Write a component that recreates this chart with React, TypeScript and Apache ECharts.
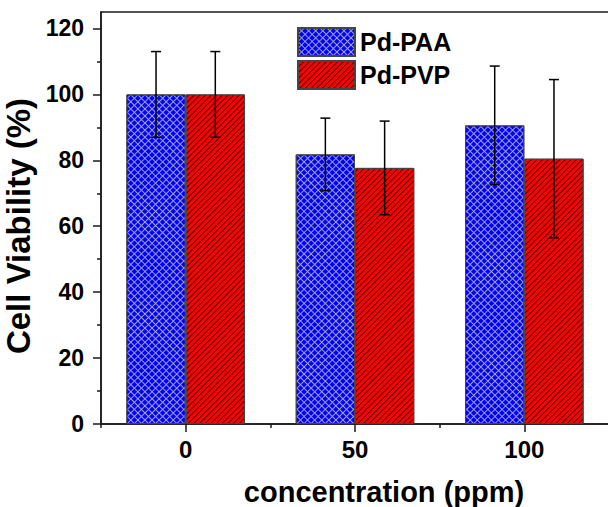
import React, { useEffect, useRef } from 'react';
import * as echarts from 'echarts';

const categories = ['0', '50', '100'];
const seriesNames = ['Pd-PAA', 'Pd-PVP'];
const paaValues = [100, 81.8, 90.6];
const paaErrors = [13, 11, 18];
const pvpValues = [100, 77.7, 80.5];
const pvpErrors = [13, 14.2, 24];
const yTicks = [0, 20, 40, 60, 80, 100, 120];
const yMin = 0;
const yMax = 125;
const yInterval = 20;

export default function App() {
  const ref = useRef<HTMLDivElement>(null);
  useEffect(() => {
    const chart = echarts.init(ref.current!, null, { renderer: 'svg' });
    const font = 'Arial, "Liberation Sans", Helvetica, sans-serif';
    const axisColor = '#1a1a1a';
    const barRatio = 0.35;
    const errData = (vals: number[], errs: number[]) =>
      vals.map((v, i) => [i, v - errs[i], v + errs[i]]);
    const errSeries = (name: string, vals: number[], errs: number[], side: number) => ({
      type: 'custom',
      name: name + ' error',
      z: 5,
      data: errData(vals, errs),
      encode: { x: 0, y: [1, 2] },
      renderItem: (params: any, api: any) => {
        const idx = api.value(0);
        const lo = api.coord([idx, api.value(1)]);
        const hi = api.coord([idx, api.value(2)]);
        const band = api.size([1, 0])[0];
        const x = lo[0] + (side * band * barRatio) / 2;
        const cap = 5;
        const style = { stroke: '#000', lineWidth: 1.5 };
        return {
          type: 'group',
          children: [
            { type: 'line', shape: { x1: x, y1: hi[1], x2: x, y2: lo[1] }, style },
            { type: 'line', shape: { x1: x - cap, y1: hi[1], x2: x + cap, y2: hi[1] }, style },
            { type: 'line', shape: { x1: x - cap, y1: lo[1], x2: x + cap, y2: lo[1] }, style },
          ],
        };
      },
    });

    const option: any = {
      animation: false,
      backgroundColor: '#fff',
      grid: {
        left: 101,
        right: -1,
        top: 12,
        bottom: 83,
        containLabel: false,
        outerBoundsMode: 'none',
        show: true,
        borderColor: axisColor,
        borderWidth: 1.5,
      },
      legend: {
        orient: 'vertical',
        left: 292,
        top: 22,
        itemWidth: 57,
        itemHeight: 28,
        itemGap: 3,
        icon: 'rect',
        data: seriesNames,
        textStyle: { fontFamily: font, fontWeight: 'bold', fontSize: 25, color: '#000' },
      },
      xAxis: [
        {
          type: 'category',
          data: categories,
          position: 'bottom',
          axisLine: { show: true, onZero: false, lineStyle: { color: axisColor, width: 1.5 } },
          axisTick: { show: true, alignWithLabel: true, length: 8, lineStyle: { color: axisColor, width: 1.5 } },
          axisLabel: { fontFamily: font, fontWeight: 'bold', fontSize: 24, color: '#000', margin: 13 },
          name: 'concentration (ppm)',
          nameLocation: 'middle',
          nameGap: 53,
          nameTextStyle: { fontFamily: font, fontWeight: 'bold', fontSize: 29, color: '#000', padding: [0, 0, 0, 58] },
          splitLine: { show: false },
        },
        {
          type: 'category',
          data: categories,
          position: 'top',
          offset: -412,
          axisLine: { show: false, onZero: false },
          axisTick: { show: true, inside: true, alignWithLabel: false, length: 4, lineStyle: { color: axisColor, width: 1.5 } },
          axisLabel: { show: false },
          splitLine: { show: false },
        },
      ],
      yAxis: {
        type: 'value',
        min: yMin,
        max: yMax,
        interval: yInterval,
        axisLine: { show: true, lineStyle: { color: axisColor, width: 1.5 } },
        axisTick: { show: true, length: 8, customValues: yTicks, lineStyle: { color: axisColor, width: 1.5 } },
        minorTick: { show: true, splitNumber: 2, length: 4, lineStyle: { color: axisColor, width: 1.5 } },
        axisLabel: { customValues: yTicks, fontFamily: font, fontWeight: 'bold', fontSize: 23, color: '#000', margin: 17 },
        splitLine: { show: false },
        name: 'Cell Viability (%)',
        nameLocation: 'middle',
        nameGap: 56,
        nameTextStyle: { fontFamily: font, fontWeight: 'bold', fontSize: 33, color: '#000', padding: [0, 16, 0, 0] },
      },
      series: [
        {
          type: 'bar',
          name: seriesNames[0],
          data: paaValues,
          barWidth: '35%',
          barGap: '0%',
          itemStyle: {
            color: '#a0a0c4',
            borderColor: '#444',
            borderWidth: 1,
            decal: {
              symbol: 'rect',
              symbolSize: 1,
              color: '#0000ff',
              dashArrayX: [4, 1],
              dashArrayY: [4, 1],
              rotation: Math.PI / 4,
            },
          },
        },
        {
          type: 'bar',
          name: seriesNames[1],
          data: pvpValues,
          barWidth: '35%',
          barGap: '0%',
          itemStyle: {
            color: '#ff0000',
            borderColor: '#444',
            borderWidth: 1,
            decal: {
              symbol: 'rect',
              symbolSize: 1,
              color: 'rgba(0,0,0,0.7)',
              dashArrayX: [1, 0],
              dashArrayY: [1, 3],
              rotation: -Math.PI / 4,
            },
          },
        },
        errSeries(seriesNames[0], paaValues, paaErrors, -1),
        errSeries(seriesNames[1], pvpValues, pvpErrors, 1),
      ],
    };
    chart.setOption(option);
    return () => chart.dispose();
  }, []);
  return (
    <div
      ref={ref}
      style={{ position: 'fixed', left: 0, top: 0, width: 608, height: 507, background: '#fff' }}
    />
  );
}
